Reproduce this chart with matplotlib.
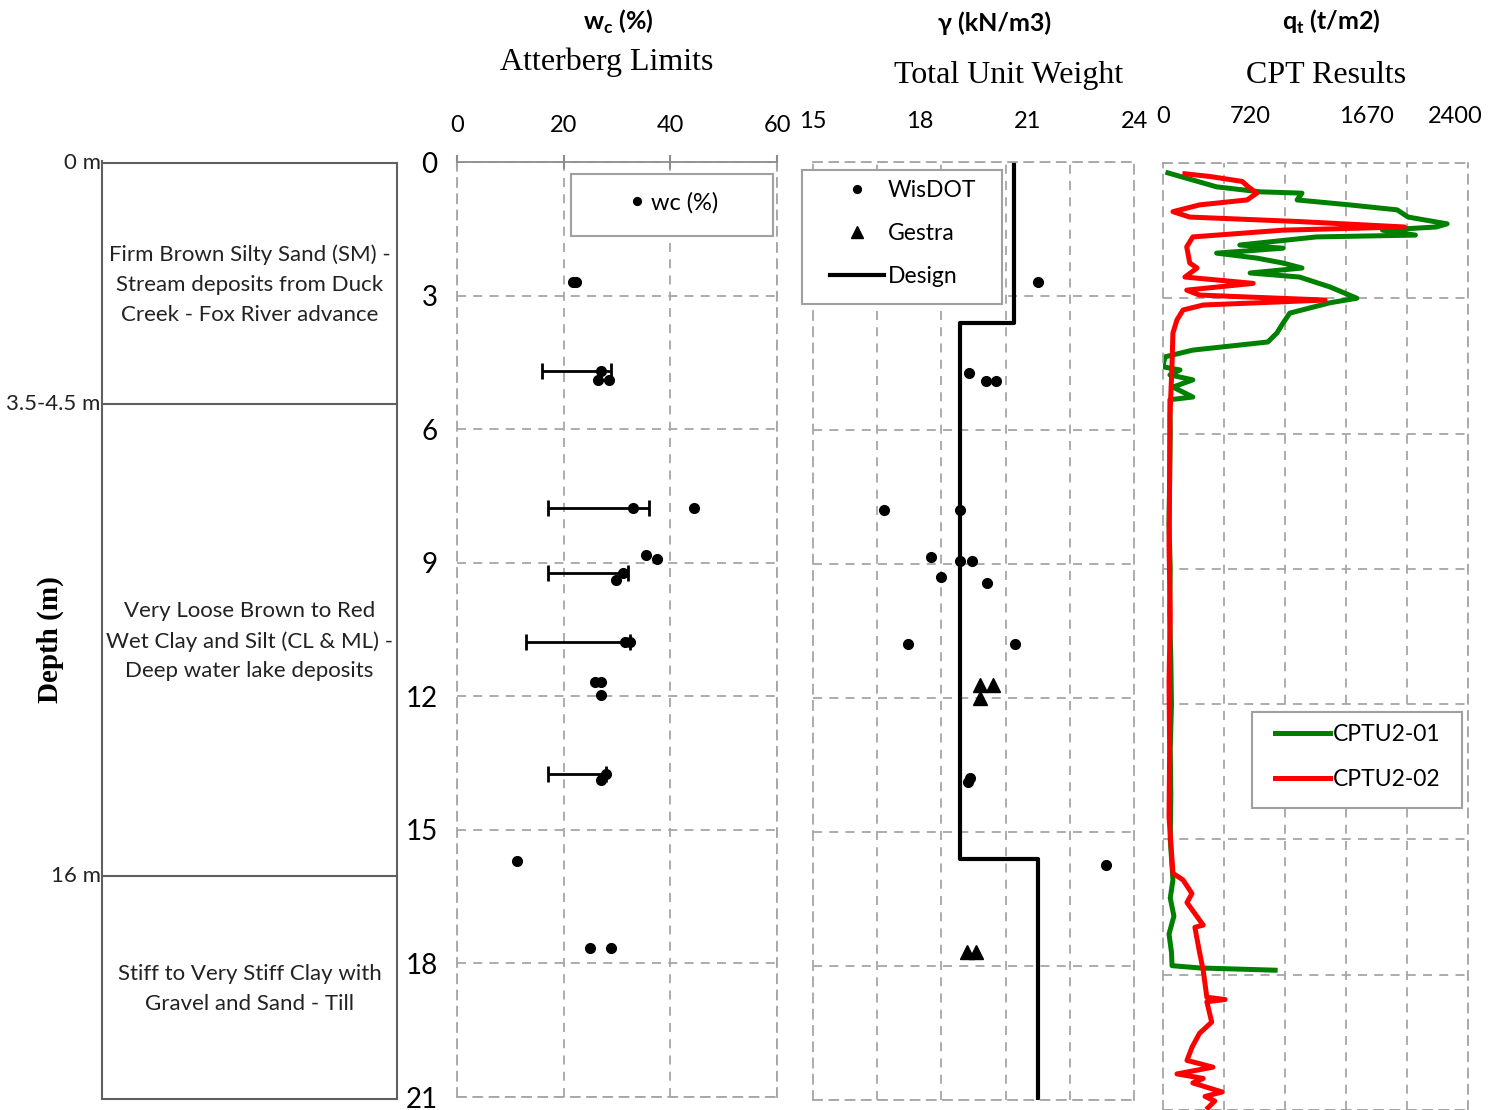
import matplotlib.pyplot as plt
from matplotlib.patches import Rectangle
import numpy as np

SANS = ['Lato', 'DejaVu Sans']
SERIF = 'Liberation Serif'
plt.rcParams['font.family'] = SANS
plt.rcParams['mathtext.fontset'] = 'custom'
plt.rcParams['mathtext.rm'] = 'Lato'
plt.rcParams['mathtext.bf'] = 'Lato:bold'

# --- soil profile ---
layer_bounds = [0, 5.4, 16.0, 21]
bound_labels = ['0 m', '3.5-4.5 m', '16 m']
layer_texts = ['Firm Brown Silty Sand (SM) -\nStream deposits from Duck\nCreek - Fox River advance',
               'Very Loose Brown to Red\nWet Clay and Silt (CL & ML) -\nDeep water lake deposits',
               'Stiff to Very Stiff Clay with\nGravel and Sand - Till']

# --- water content / atterberg limits ---
wc_depth = [2.69, 2.69, 4.69, 4.89, 4.89, 7.76, 7.76, 8.82, 8.91, 9.24, 9.38,
            10.77, 10.77, 11.67, 11.67, 11.96, 13.75, 13.87, 15.7, 17.66, 17.66]
wc_val = [21.8, 22.3, 27.0, 26.4, 28.5, 33.0, 44.4, 35.4, 37.5, 31.1, 29.8,
          31.5, 32.4, 25.9, 27.0, 27.0, 27.9, 27.0, 11.3, 24.9, 28.9]
al_depth = [4.69, 7.76, 9.24, 10.77, 13.75]
pl = [15.9, 17.1, 17.1, 12.9, 17.1]
ll = [28.9, 36.0, 32.0, 32.4, 28.0]

# --- unit weight ---
wis_depth = [2.69, 4.72, 4.90, 4.90, 7.79, 7.79, 8.84, 8.93, 8.93, 9.29, 9.42,
             10.79, 10.79, 13.79, 13.88, 15.74]
wis_gamma = [21.31, 19.37, 19.85, 20.13, 16.99, 19.12, 18.31, 19.12, 19.46, 18.59, 19.88,
             17.66, 20.66, 19.40, 19.35, 23.21]
gestra_depth = [11.71, 11.71, 12.0, 17.69, 17.69]
gestra_gamma = [19.68, 20.05, 19.68, 19.32, 19.57]
design_depth = [0, 3.6, 3.6, 15.6, 15.6, 21]
design_gamma = [20.64, 20.64, 19.12, 19.12, 21.31, 21.31]

# --- CPT tip resistance ---
cpt1_depth = [0.22, 0.53, 0.64, 0.67, 0.82, 0.93, 1.04, 1.2, 1.35, 1.42, 1.49, 1.6, 1.64,
              1.82, 1.89, 2.0, 2.11, 2.22, 2.33, 2.44, 2.53, 2.75, 3.0, 3.1, 3.33, 3.55,
              3.77, 3.97, 4.15, 4.3, 4.52, 4.59, 4.7, 4.81, 4.97, 5.19, 5.25, 6.0, 7.0,
              8.0, 9.0, 10.0, 11.0, 12.0, 13.0, 14.0, 15.0, 15.9, 16.3, 16.7, 17.1, 17.5,
              17.8, 17.85, 17.9]
cpt1_q = [41, 440, 795, 1140, 1100, 1530, 1920, 2010, 2330, 2240, 1800, 2070, 1260,
          630, 985, 440, 770, 985, 1140, 715, 1120, 1370, 1590, 1370, 1040, 985,
          935, 860, 245, 16, 0, 140, 57, 245, 82, 245, 57, 60, 55,
          50, 60, 55, 65, 70, 60, 65, 60, 82, 60, 90, 50, 70,
          75, 300, 920]
cpt2_depth = [0.24, 0.30, 0.41, 0.53, 0.67, 0.82, 0.93, 1.08, 1.2, 1.3, 1.42, 1.49, 1.64,
              1.86, 2.22, 2.33, 2.53, 2.67, 2.82, 2.93, 3.04, 3.15, 3.26, 3.48, 3.77,
              4.52, 5.63, 7.0, 8.5, 10.0, 11.5, 13.0, 14.5, 15.75, 15.9, 16.2, 16.4,
              16.9, 16.95, 17.5, 17.9, 18.5, 18.55, 18.6, 19.05, 19.3, 19.6, 19.9,
              20.05, 20.2, 20.3, 20.4, 20.6, 20.7, 20.8, 20.95]
cpt2_q = [180, 385, 650, 700, 770, 690, 300, 82, 220, 1120, 1980, 985, 245,
          195, 220, 280, 180, 740, 195, 300, 1330, 330, 165, 115, 82,
          74, 57, 55, 50, 60, 50, 55, 50, 82, 165, 238, 197,
          330, 262, 300, 330, 360, 510, 360, 400, 300, 240, 197,
          410, 115, 330, 245, 485, 345, 425, 370]

depth_ticks = np.arange(0, 22, 3)
GRID = '#a6a6a6'
DASH = (0, (5, 4))


def dashed_frame(ax):
    for s in ax.spines.values():
        s.set_color(GRID)
        s.set_linestyle(DASH)
        s.set_linewidth(1.3)
    ax.grid(True, which='both', color=GRID, linestyle=DASH, linewidth=1.3)
    ax.set_axisbelow(True)


def legend_box(ax, box, anchor, size=16.5, **kw):
    # white box with a grey edge, the legend entries sit inside without a frame
    x0, y0, x1, y1 = box
    ax.add_patch(Rectangle((x0, y0), x1 - x0, y1 - y0, transform=ax.transAxes,
                           facecolor='white', edgecolor='#a0a0a0', lw=1.5,
                           zorder=4, clip_on=False))
    leg = ax.legend(frameon=False, fontsize=size, loc='upper left', bbox_to_anchor=anchor,
                    borderpad=0, borderaxespad=0, **kw)
    leg.set_zorder(6)
    return leg


fig = plt.figure(figsize=(14.94, 11.10), dpi=100)

# soil column
axs = fig.add_axes([0.0683, 0.0099, 0.1975, 0.8432])
axs.set_xlim(0, 1)
axs.set_ylim(21, 0)
axs.axis('off')
axs.plot([0, 0], [-0.05, 21], color='#606060', lw=1.5, clip_on=False)
axs.plot([1, 1], [0, 21], color='#606060', lw=1.5, clip_on=False)
axs.plot([0, 1], [21, 21], color='#606060', lw=1.5, clip_on=False)
for d, lab in zip(layer_bounds[:-1], bound_labels):
    axs.plot([0, 1], [d, d], color='#606060', lw=1.5, clip_on=False)
    axs.text(-0.005, d, lab, ha='right', va='center', fontsize=16, color='#222222')
for txt, yf in zip(layer_texts, [0.870, 0.489, 0.1175]):
    axs.text(0.5, yf, txt, transform=axs.transAxes, ha='center', va='center',
             fontsize=16, linespacing=1.6, color='#222222')
fig.text(0.034, 0.4234, 'Depth (m)', rotation=90, ha='center', va='center',
         family=SERIF, fontweight='bold', fontsize=21)

# Atterberg limits panel
ax1 = fig.add_axes([0.3059, 0.0117, 0.2142, 0.8423])
ax1.plot(wc_val, wc_depth, 'o', color='black', ms=7, label='wc (%)', zorder=3)
ax1.errorbar(pl, al_depth, xerr=[np.zeros(len(pl)), np.subtract(ll, pl)], fmt='none',
             ecolor='black', elinewidth=2, capsize=6, capthick=2, zorder=2)
ax1.set_xlim(0, 60)
ax1.set_ylim(21, 0)
ax1.set_xticks([0, 20, 40, 60])
ax1.set_yticks(depth_ticks)
dashed_frame(ax1)
ax1.spines['top'].set_linestyle('-')
ax1.spines['top'].set_color('#8c8c8c')
ax1.xaxis.tick_top()
ax1.tick_params(axis='x', direction='inout', length=10, width=1.5, color='#8c8c8c',
                labelsize=17, pad=14)
ax1.tick_params(axis='y', length=0, labelsize=20, pad=14)
legend_box(ax1, (0.356, 0.921, 0.9875, 0.987), (0.524, 0.968), size=17,
           handlelength=1.0, handletextpad=0.1, markerscale=0.8)

# unit weight panel
ax2 = fig.add_axes([0.5442, 0.009, 0.2149, 0.845])
ax2.plot(wis_gamma, wis_depth, 'o', color='black', ms=7, label='WisDOT', zorder=3)
ax2.plot(gestra_gamma, gestra_depth, '^', color='black', ms=10, label='Gestra', zorder=3)
ax2.plot(design_gamma, design_depth, '-', color='black', lw=3, label='Design', zorder=2)
ax2.set_xlim(15, 24)
ax2.set_ylim(21, 0)
ax2.set_xticks([15, 18, 21, 24])
ax2.set_xticks(np.linspace(15, 24, 6), minor=True)
ax2.set_yticks(depth_ticks)
dashed_frame(ax2)
ax2.grid(False, axis='x', which='major')
ax2.xaxis.tick_top()
ax2.tick_params(axis='x', which='both', length=0, labelsize=17, pad=22)
ax2.tick_params(axis='y', length=0, labelleft=False)
legend_box(ax2, (-0.034, 0.849, 0.589, 0.9915), (0.053, 0.981),
           labelspacing=0.97, handlelength=2.36, handletextpad=0.15, markerscale=0.8)

# CPT panel
ax3 = fig.add_axes([0.7784, 0.0, 0.2041, 0.8532])
ax3.plot(cpt1_q, cpt1_depth, color='#008000', lw=3.6, label='CPTU2-01')
ax3.plot(cpt2_q, cpt2_depth, color='#ff0000', lw=3.6, label='CPTU2-02')
ax3.set_xlim(0, 2500)
ax3.set_ylim(21, 0)
ax3.set_xticks([0, 720, 1670, 2400])
ax3.set_xticks(np.arange(0, 2501, 500), minor=True)
ax3.set_yticks(depth_ticks)
dashed_frame(ax3)
ax3.grid(False, axis='x', which='major')
ax3.xaxis.tick_top()
ax3.tick_params(axis='x', which='both', length=0, labelsize=17, pad=26)
ax3.tick_params(axis='y', length=0, labelleft=False)
legend_box(ax3, (0.292, 0.319, 0.980, 0.420), (0.367, 0.408),
           labelspacing=1.08, handlelength=2.4, handletextpad=0.12)

# panel headings
fig.text(0.4137, 0.980, r'w$_\mathbf{c}$ (%)', ha='center', va='center', fontsize=18, fontweight='bold')
fig.text(0.4063, 0.944, 'Atterberg Limits', ha='center', va='center', family=SERIF, fontsize=23)
fig.text(0.666, 0.979, 'γ (kN/m3)', ha='center', va='center', fontsize=18, fontweight='bold')
fig.text(0.6754, 0.932, 'Total Unit Weight', ha='center', va='center', family=SERIF, fontsize=23)
fig.text(0.891, 0.980, r'q$_\mathbf{t}$ (t/m2)', ha='center', va='center', fontsize=18, fontweight='bold')
fig.text(0.8876, 0.932, 'CPT Results', ha='center', va='center', family=SERIF, fontsize=23)

fig.savefig('out.png', dpi=100)
